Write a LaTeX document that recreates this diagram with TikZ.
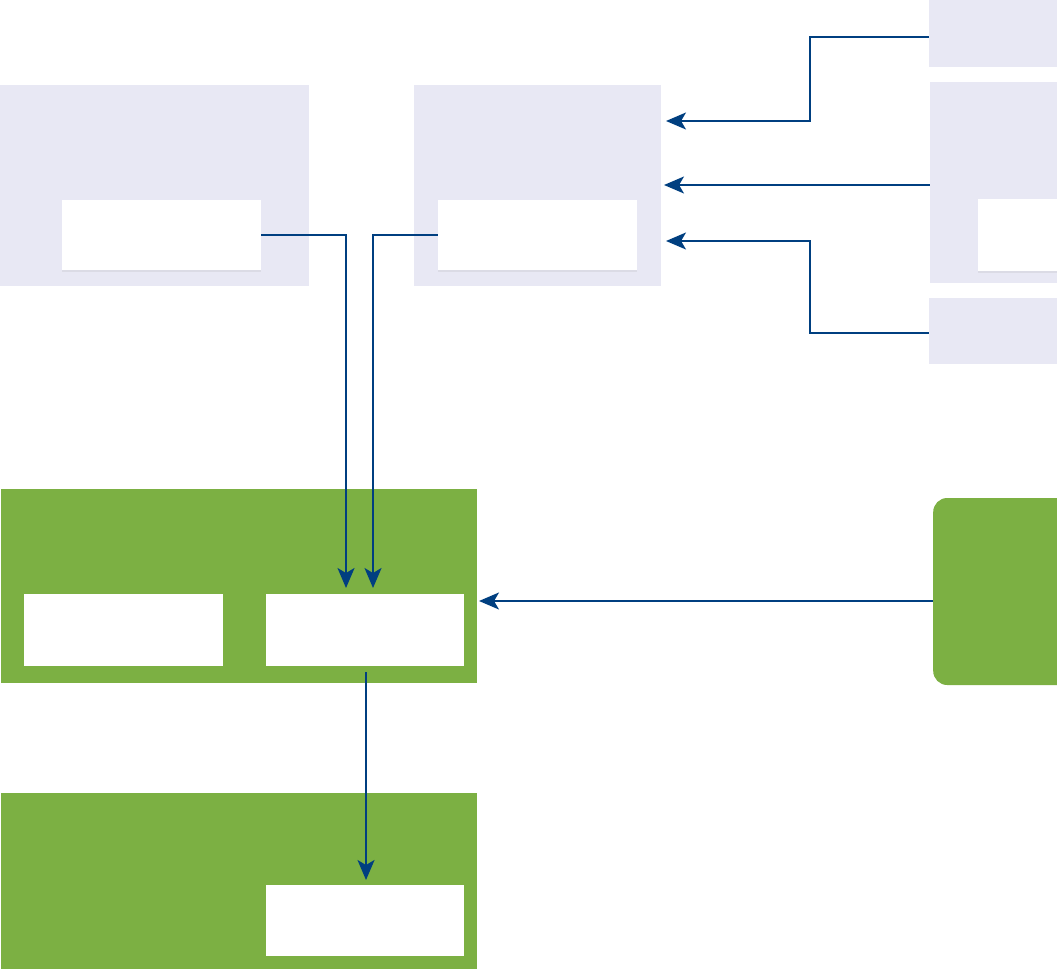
\documentclass[tikz,border=0pt]{standalone}
\usetikzlibrary{arrows.meta,shadows}
\definecolor{lav}{HTML}{E8E8F4}
\definecolor{grn}{HTML}{7CB043}
\definecolor{conncol}{HTML}{003F80}
\tikzset{
  lavbox/.style={fill=lav, draw=none, inner sep=0pt},
  grnbox/.style={fill=grn, draw=none, inner sep=0pt},
  whitebox/.style={fill=white, draw=none, inner sep=0pt, drop shadow={opacity=0.12, shadow xshift=0pt, shadow yshift=-2pt}},
  whiteflat/.style={fill=white, draw=none, inner sep=0pt},
  conn/.style={draw=conncol, line width=2pt, -{Stealth[length=20pt,width=17pt,inset=5pt]}},
}
\begin{document}
\begin{tikzpicture}[x=1pt,y=-1pt]
\useasboundingbox (0,0) rectangle (1057,969);
% lavender group
\node[lavbox, minimum width=309pt, minimum height=201pt] (A) at (154.5,185.5) {};
\node[whitebox, minimum width=199pt, minimum height=70pt] (Ai) at (161.5,235) {};
\node[lavbox, minimum width=247pt, minimum height=201pt] (B) at (537.5,185.5) {};
\node[whitebox, minimum width=199pt, minimum height=70pt] (Bi) at (537.5,235) {};
\node[lavbox, minimum width=128pt, minimum height=67pt] (C) at (993,33.5) {};
\node[lavbox, minimum width=127pt, minimum height=201pt] (D) at (993.5,182.5) {};
\node[whitebox, minimum width=79pt, minimum height=72pt] (Di) at (1017.5,235) {};
\node[lavbox, minimum width=128pt, minimum height=66pt] (E) at (993,331) {};
% green group
\node[grnbox, minimum width=476pt, minimum height=194pt] (F) at (239,586) {};
\node[whiteflat, minimum width=199pt, minimum height=72pt] (Fa) at (123.5,630) {};
\node[whiteflat, minimum width=198pt, minimum height=72pt] (Fb) at (365,630) {};
\node[grnbox, rounded corners=14pt, minimum width=150pt, minimum height=187pt, anchor=west] (G) at (933,591.5) {};
\node[grnbox, minimum width=476pt, minimum height=176pt] (H) at (239,881) {};
\node[whiteflat, minimum width=198pt, minimum height=71pt] (Hi) at (365,920.5) {};
% connector end points
\coordinate (a1) at (346,588);
\coordinate (a2) at (373,588);
\coordinate (b1) at (666,121);
\coordinate (b2) at (664,185);
\coordinate (b3) at (666,241);
\coordinate (f1) at (479,601);
\coordinate (h1) at (366,880);
% connectors
\draw[conn] (Ai.east) -| (a1);
\draw[conn] (Bi.west) -| (a2);
\draw[conn] ([yshift=-3.5pt]C.west) -| (810,121) -- (b1);
\draw[conn] ([yshift=-2.5pt]D.west) -- (b2);
\draw[conn] ([yshift=-2pt]E.west) -| (810,241) -- (b3);
\draw[conn] ([yshift=-9.5pt]G.west) -- (f1);
\draw[conn] ([xshift=1pt,yshift=-6pt]Fb.south) -- (h1);
\end{tikzpicture}
\end{document}
